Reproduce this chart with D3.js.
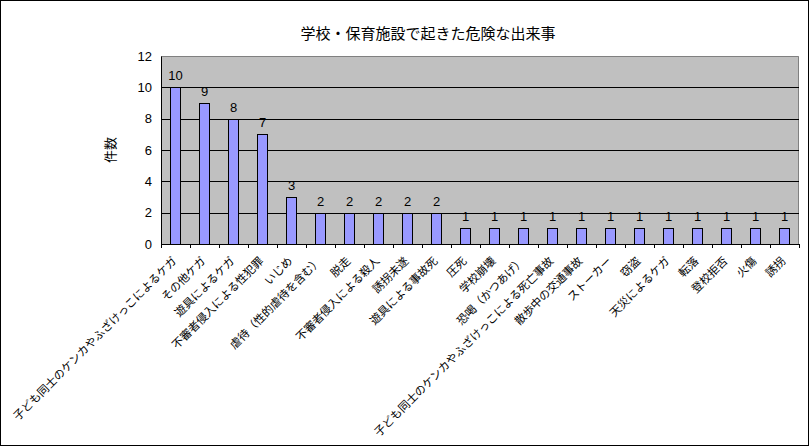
<!DOCTYPE html>
<html>
<head>
    <meta charset="utf-8">
    <title>学校・保育施設で起きた危険な出来事</title>
    <script src="https://d3js.org/d3.v7.min.js"></script>
    <style>
        body { margin: 0; background: #fff; }
        text { font-family: "Noto Sans CJK JP", "Noto Sans", sans-serif; fill: #000; }
    </style>
</head>
<body>
    <div id="chart"></div>
    <script>
// data
const categories = [
    "子ども同士のケンカやふざけっこによるケガ", "その他ケガ", "遊具によるケガ", "不審者侵入による性犯罪",
    "いじめ", "虐待（性的虐待を含む）", "脱走", "不審者侵入による殺人", "誘拐未遂", "遊具による事故死",
    "圧死", "学校崩壊", "恐喝（かつあげ）", "子ども同士のケンカやふざけっこによる死亡事故", "散歩中の交通事故",
    "ストーカー", "窃盗", "天災によるケガ", "転落", "登校拒否", "火傷", "誘拐"
];
const counts = [10, 9, 8, 7, 3, 2, 2, 2, 2, 2, 1, 1, 1, 1, 1, 1, 1, 1, 1, 1, 1, 1];
const yTicks = [0, 2, 4, 6, 8, 10, 12];
const title = "学校・保育施設で起きた危険な出来事";
const yTitle = "件数";

const W = 810, H = 447;
const svg = d3.select("#chart").append("svg").attr("width", W).attr("height", H);

// outer frame
svg.append("rect").attr("x", 0.5).attr("y", 0.5).attr("width", W - 2).attr("height", H - 2)
    .attr("fill", "#fff").attr("stroke", "#000");

const margin = { top: 56, left: 161, right: 11, bottom: 203 };
const width = W - margin.left - margin.right;
const height = H - margin.top - margin.bottom;

const x = d3.scaleBand().domain(categories).range([0, width]).paddingInner(0.64).paddingOuter(0.32);
const y = d3.scaleLinear().domain([0, 12]).range([height, 0]);

const g = svg.append("g").attr("transform", `translate(${margin.left},${margin.top})`);

// plot area
g.append("rect").attr("width", width).attr("height", height).attr("fill", "#c0c0c0");
g.append("path").attr("d", `M0,0.5H${width - 0.5}V${height}`).attr("fill", "none").attr("stroke", "#808080");

// gridlines
g.selectAll(".grid").data(yTicks.filter(d => d > 0 && d < 12)).enter().append("line")
    .attr("x1", 0).attr("x2", width)
    .attr("y1", d => Math.round(y(d)) + 0.5).attr("y2", d => Math.round(y(d)) + 0.5)
    .attr("stroke", "#000");

// bars
g.selectAll(".bar").data(counts).enter().append("rect")
    .attr("class", "bar")
    .attr("x", (d, i) => Math.round(x(categories[i])) + 0.5)
    .attr("y", d => Math.round(y(d)) + 0.5)
    .attr("width", Math.round(x.bandwidth()))
    .attr("height", d => Math.round(y(0)) - Math.round(y(d)))
    .attr("fill", "#9999ff").attr("stroke", "#000");

// value labels
g.selectAll(".val").data(counts).enter().append("text")
    .attr("x", (d, i) => x(categories[i]) + x.bandwidth() / 2)
    .attr("y", d => y(d) - 7)
    .attr("text-anchor", "middle").attr("font-size", 13)
    .style("font-family", "'Liberation Sans', sans-serif")
    .text(d => d);

// y axis
const yAxis = g.append("g").call(d3.axisLeft(y).tickValues(yTicks).tickSize(0).tickPadding(9));
yAxis.select(".domain").attr("stroke", "#000");
yAxis.selectAll("text").attr("font-size", 13).style("font-family", "'Liberation Sans', sans-serif");

// x axis
const step = x.step();
const xAxis = g.append("g").attr("transform", `translate(0,${height})`);
xAxis.append("line").attr("x1", 0).attr("x2", width).attr("y1", 0.5).attr("y2", 0.5).attr("stroke", "#000");
xAxis.selectAll(".tick").data(d3.range(categories.length + 1)).enter().append("line")
    .attr("x1", i => Math.round(i * step) + 0.5).attr("x2", i => Math.round(i * step) + 0.5)
    .attr("y1", 0).attr("y2", 4).attr("stroke", "#000");

xAxis.selectAll(".lbl").data(categories).enter().append("text")
    .attr("transform", d => `translate(${x(d) + x.bandwidth() / 2 - 1},${15}) rotate(-45)`)
    .attr("text-anchor", "end").attr("dy", "0.35em").attr("font-size", 11.3)
    .text(d => d);

// titles
svg.append("text").attr("x", 428).attr("y", 39).attr("text-anchor", "middle")
    .attr("font-size", 15).text(title);
svg.append("text").attr("transform", "translate(110,150) rotate(-90)")
    .attr("text-anchor", "middle").attr("dy", "0.35em").attr("font-size", 13).text(yTitle);
    </script>
</body>
</html>
